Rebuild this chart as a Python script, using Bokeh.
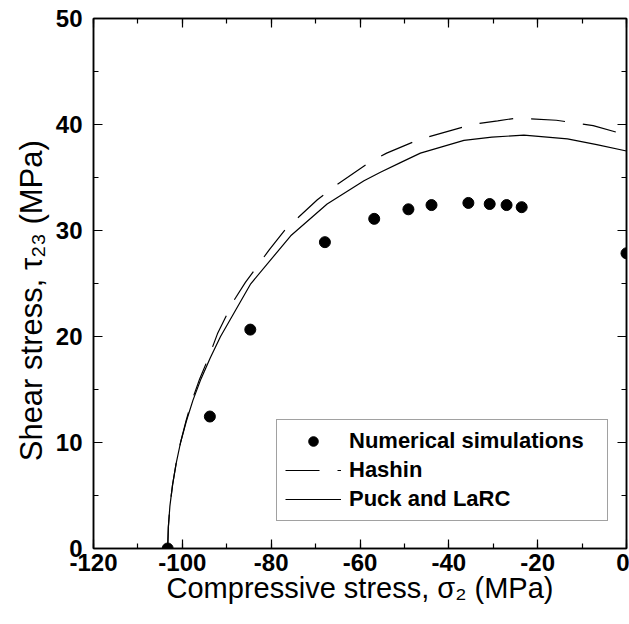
from bokeh.plotting import figure
from bokeh.models import (Range1d, LinearAxis, SingleIntervalTicker, PrintfTickFormatter,
                          Legend, LegendItem)
from bokeh.embed import file_html
from bokeh.resources import INLINE

# ---------------- data ----------------
sim_x = [-103.3, -93.8, -84.7, -67.9, -56.8, -49.1, -43.9, -35.6, -30.8, -27.0, -23.6, 0.0]
sim_y = [0.0, 12.45, 20.65, 28.9, 31.1, 32.0, 32.4, 32.6, 32.5, 32.4, 32.2, 27.85]

hashin_x = [-103.3, -103.15, -102.8, -102.2, -101.4, -100.4, -99.2, -97.8, -96.1, -94.1,
            -92.1, -88.4, -85.8, -80.4, -76.8, -69.6, -65.3, -58.0, -54.0, -46.6,
            -34.8, -29.0, -24.9, -15.8, -7.5, 0.0]
hashin_y = [0.0, 2.0, 4.0, 6.0, 8.0, 10.0, 12.0, 14.0, 16.0, 18.0,
            20.25, 23.4, 25.1, 28.2, 30.1, 32.9, 34.3, 36.4, 37.3, 38.6,
            40.0, 40.35, 40.6, 40.4, 39.9, 39.0]

puck_x = [-103.3, -103.15, -102.8, -102.2, -101.4, -100.4, -99.1, -97.6, -95.8, -93.7,
          -91.4, -84.6, -75.6, -67.4, -59.1, -55.4, -50.9, -46.4, -36.6, -30.3,
          -23.1, -13.3, -6.7, 0.0]
puck_y = [0.0, 2.0, 4.0, 6.0, 8.0, 10.0, 12.0, 14.0, 16.0, 18.0,
          20.0, 24.97, 29.5, 32.5, 34.7, 35.5, 36.4, 37.3, 38.5, 38.8,
          39.0, 38.65, 38.1, 37.5]

x_ticks_interval = 20
y_ticks_interval = 10
x_title = "Compressive stress, σ₂ (MPa)"
y_title = "Shear stress, τ₂₃ (MPa)"
legend_labels = ["Numerical simulations", "Hashin", "Puck and LaRC"]

# ---------------- figure ----------------
W, H = 629, 624
FL, FR, FT, FB = 93, 3, 18, 76   # frame borders in px
p = figure(width=W, height=H, output_backend="svg", toolbar_location=None,
           x_range=Range1d(-120, 0), y_range=Range1d(0, 50),
           min_border_left=FL, min_border_right=FR, min_border_top=FT,
           min_border_bottom=FB, x_axis_location=None, y_axis_location=None)
p.grid.visible = False
p.outline_line_color = "black"
p.outline_line_width = 1.5
p.background_fill_color = "white"
p.border_fill_color = "white"

FONT = "Liberation Sans"

def style_axis(ax, show_labels):
    ax.major_tick_in = 9
    ax.major_tick_out = 0
    ax.minor_tick_in = 5
    ax.minor_tick_out = 0
    ax.axis_line_color = "black"
    ax.axis_line_width = 1.5
    ax.major_tick_line_width = 1.2
    ax.minor_tick_line_width = 1.2
    ax.formatter = PrintfTickFormatter(format="%d")
    ax.major_label_text_font = FONT
    ax.major_label_text_font_style = "bold"
    ax.major_label_text_font_size = "24px"
    ax.major_label_text_color = "black"
    ax.axis_label_text_font = FONT
    ax.axis_label_text_font_style = "normal"
    ax.axis_label_text_font_size = "29px"
    ax.axis_label_text_color = "black"
    if not show_labels:
        ax.major_label_text_alpha = 0.0

xb = LinearAxis(ticker=SingleIntervalTicker(interval=x_ticks_interval, num_minor_ticks=2))
style_axis(xb, True)
xb.major_label_standoff = 5
xb.axis_label = x_title
xb.axis_label_standoff = -2
p.add_layout(xb, "below")

xt = LinearAxis(ticker=SingleIntervalTicker(interval=x_ticks_interval, num_minor_ticks=2))
style_axis(xt, False)
p.add_layout(xt, "above")

yl = LinearAxis(ticker=SingleIntervalTicker(interval=y_ticks_interval, num_minor_ticks=2))
style_axis(yl, True)
yl.major_label_standoff = 11
yl.axis_label = y_title + "\u00a0\u00a0\u00a0\u00a0"
yl.axis_label_text_font_size = "31px"
yl.axis_label_standoff = 4
p.add_layout(yl, "left")

yr = LinearAxis(ticker=SingleIntervalTicker(interval=y_ticks_interval, num_minor_ticks=2))
style_axis(yr, False)
p.add_layout(yr, "right")

# ---------------- glyphs ----------------
r_h = p.line(hashin_x, hashin_y, line_color="black", line_width=1.2, line_dash="34 18")
r_p = p.line(puck_x, puck_y, line_color="black", line_width=1.2)
r_s = p.scatter(sim_x, sim_y, size=11, marker="circle", fill_color="black", line_color="black")

legend = Legend(items=[LegendItem(label=legend_labels[0], renderers=[r_s]),
                       LegendItem(label=legend_labels[1], renderers=[r_h]),
                       LegendItem(label=legend_labels[2], renderers=[r_p])],
                location=(183, 27), orientation="vertical")
legend.label_text_font = FONT
legend.label_text_font_style = "bold"
legend.label_text_font_size = "22px"
legend.label_text_color = "black"
legend.glyph_width = 56
legend.glyph_height = 24
legend.label_height = 24
legend.label_width = 250
legend.label_standoff = 8
legend.spacing = 3
legend.padding = 8
legend.margin = 0
legend.border_line_color = "#444444"
legend.border_line_width = 1.5
legend.background_fill_alpha = 1.0
p.add_layout(legend, "center")

open("out.html", "w").write(file_html(p, INLINE))
